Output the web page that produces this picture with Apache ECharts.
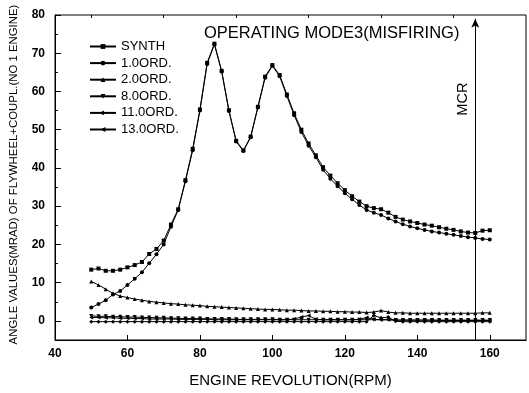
<!DOCTYPE html>
<html>
<head>
<meta charset="utf-8">
<script src="https://cdn.jsdelivr.net/npm/echarts@6/dist/echarts.min.js"></script>
<style>html,body{margin:0;padding:0;background:#fff}#c{width:529px;height:393px}</style>
</head>
<body>
<div id="c"></div>
<script>
const rpm = [50,52,54,56,58,60,62,64,66,68,70,72,74,76,78,80,82,84,86,88,90,92,94,96,98,100,102,104,106,108,110,112,114,116,118,120,122,124,126,128,130,132,134,136,138,140,142,144,146,148,150,152,154,156,158,160];
const synth = [13.4,13.7,13.1,13.1,13.4,14.0,14.6,15.4,17.5,18.8,21.0,25.2,29.2,36.8,45.0,55.3,67.5,72.5,65.4,55.1,47.1,44.6,48.2,56.0,63.9,66.9,64.3,59.2,54.3,50.0,46.4,43.3,40.2,38.0,36.0,34.2,32.6,31.2,30.0,29.5,29.2,28.3,27.2,26.5,26.0,25.6,25.2,24.9,24.5,24.1,23.8,23.4,23.1,23.0,23.6,23.7];
const ord1 = [3.5,4.4,5.4,6.9,7.8,9.4,11.0,12.7,15.1,17.4,20.0,24.6,29.0,36.5,44.6,55.0,67.2,72.3,65.2,54.9,46.9,44.4,48.0,55.8,63.6,66.7,64.0,58.8,53.8,49.4,45.8,42.8,39.5,37.2,35.2,33.4,31.8,30.3,29.0,28.3,27.7,26.8,26.0,25.3,24.7,24.2,23.8,23.4,23.1,22.8,22.5,22.2,21.9,21.7,21.4,21.3];
const ord2 = [10.3,9.4,8.3,7.2,6.5,6.1,5.7,5.4,5.1,4.9,4.7,4.5,4.4,4.2,4.1,4.0,3.8,3.7,3.6,3.5,3.4,3.3,3.2,3.1,3.0,3.0,2.9,2.8,2.8,2.7,2.6,2.6,2.5,2.5,2.4,2.4,2.3,2.3,2.2,2.3,2.7,2.3,2.1,2.1,2.0,2.0,2.0,2.0,2.0,2.0,2.0,2.0,2.0,2.0,2.1,2.1];
const ord8 = [1.3,1.2,1.2,1.1,1.1,1.0,1.0,0.9,0.9,0.8,0.8,0.7,0.7,0.6,0.6,0.6,0.5,0.5,0.5,0.5,0.4,0.4,0.4,0.4,0.4,0.4,0.3,0.3,0.3,0.3,0.3,0.3,0.3,0.3,0.3,0.3,0.3,0.3,0.3,0.3,0.3,0.3,0.2,0.2,0.2,0.2,0.2,0.2,0.2,0.2,0.2,0.2,0.2,0.2,0.2,0.2];
const ord11 = [-0.2,-0.2,-0.2,-0.2,-0.2,-0.2,-0.2,-0.2,-0.2,-0.2,-0.2,-0.2,-0.2,-0.2,-0.2,-0.2,-0.2,-0.2,-0.2,-0.2,-0.2,-0.2,-0.2,-0.2,-0.2,-0.2,-0.2,-0.2,-0.2,-0.2,-0.2,-0.2,-0.2,-0.2,-0.2,-0.2,-0.2,-0.2,-0.2,1.4,0.8,1.0,-0.1,-0.2,-0.2,-0.2,-0.2,-0.2,-0.2,-0.2,-0.2,-0.2,-0.2,-0.2,-0.2,-0.2];
const ord13 = [0.9,0.9,0.8,0.8,0.7,0.7,0.6,0.6,0.5,0.5,0.5,0.5,0.4,0.4,0.4,0.4,0.4,0.3,0.3,0.3,0.3,0.3,0.3,0.3,0.3,0.3,0.3,0.3,0.5,1.0,1.4,0.4,0.3,0.3,0.3,0.3,0.3,0.4,0.9,0.4,0.3,0.3,0.2,0.2,0.2,0.2,0.2,0.2,0.1,0.1,0.1,0.1,0.1,0.1,0.1,0.1];
const seriesNames = ['SYNTH','1.0ORD.','2.0ORD.','8.0ORD.','11.0ORD.','13.0ORD.'];
const xMajorTicks = [40,60,80,100,120,140,160];
const xMinorTicks = [50,70,90,110,130,150];
const yMajorTicks = [0,10,20,30,40,50,60,70,80];
const yMinorTicks = [5,15,25,35,45,55,65,75];
const mcrRpm = 156;
const titleText = 'OPERATING MODE3(MISFIRING)';
const xName = 'ENGINE REVOLUTION(RPM)';
const yName = 'ANGLE VALUES(MRAD) OF FLYWHEEL+COUPL.(NO 1 ENGINE)';

const FONT = '"Liberation Sans", Arial, sans-serif';
const chart = echarts.init(document.getElementById('c'), null, {renderer:'canvas'});
const symbols = [['rect',0],['circle',0],['triangle',0],['triangle',180],['diamond',0],['triangle',90]];
const datasets = [synth, ord1, ord2, ord8, ord11, ord13];
const series = datasets.map((d,i)=>({
  name: seriesNames[i], type:'line', xAxisIndex:0, yAxisIndex:0,
  data: rpm.map((x,j)=>[x,d[j]]),
  symbol: symbols[i][0], symbolRotate: symbols[i][1], symbolSize: 4,
  showAllSymbol:true,
  lineStyle:{color:'#000', width:1}, itemStyle:{color:'#000'},
  emphasis:{disabled:true}, animation:false
}));
series[0].markLine = {
  silent:true, animation:false, symbol:['none','arrow'], symbolSize:[6,9],
  lineStyle:{color:'#000', width:1, type:'solid'},
  label:{show:false},
  data:[[{coord:[mcrRpm,-5]},{coord:[mcrRpm,79]}]]
};
chart.setOption({
  animation:false,
  backgroundColor:'#fff',
  title:{text:titleText, left:199, top:20, textStyle:{fontFamily:FONT, fontSize:16.5, fontWeight:'normal', color:'#000'}},
  grid:{left:53, right:3, top:15, bottom:47, show:true, borderColor:'#000', borderWidth:1},
  legend:{orient:'vertical', left:84, top:35, itemWidth:26, itemHeight:6, itemGap:3.6,
    textStyle:{fontFamily:FONT, fontSize:13, color:'#000'}, data:seriesNames},
  xAxis:[
    {type:'value', min:40, max:170, name:xName, nameLocation:'middle', nameGap:33,
      nameTextStyle:{fontFamily:FONT, fontSize:15, color:'#000'},
      axisLine:{show:true, onZero:false, lineStyle:{color:'#000', width:1}},
      splitLine:{show:false},
      axisTick:{show:true, inside:true, length:5, customValues:xMajorTicks, lineStyle:{color:'#000'}},
      axisLabel:{customValues:xMajorTicks, fontFamily:FONT, fontSize:12, fontWeight:'bold', color:'#000', margin:8}},
    {type:'value', min:40, max:170, axisLine:{show:false, onZero:false}, splitLine:{show:false}, axisLabel:{show:false},
      axisTick:{show:true, inside:true, length:3, customValues:xMinorTicks, lineStyle:{color:'#000'}}}
  ],
  yAxis:[
    {type:'value', min:-5, max:80, name:yName, nameLocation:'middle', nameGap:36,
      nameTextStyle:{fontFamily:FONT, fontSize:11.4, color:'#000', padding:[0,0,0,6]},
      axisLine:{show:true, onZero:false, lineStyle:{color:'#000', width:1}},
      splitLine:{show:false},
      axisTick:{show:true, inside:true, length:6, customValues:yMajorTicks, lineStyle:{color:'#000'}},
      axisLabel:{customValues:yMajorTicks, fontFamily:FONT, fontSize:12, fontWeight:'bold', color:'#000', margin:10}},
    {type:'value', min:-5, max:80, position:'left', axisLine:{show:false, onZero:false}, splitLine:{show:false}, axisLabel:{show:false},
      axisTick:{show:true, inside:true, length:3, customValues:yMinorTicks, lineStyle:{color:'#000'}}}
  ],
  series: series
});
const p = chart.convertToPixel({xAxisIndex:0, yAxisIndex:0}, [mcrRpm, 58]);
chart.setOption({graphic:[{type:'text', x:p[0]-12, y:p[1], rotation:Math.PI/2,
  style:{text:'MCR', fontFamily:FONT, fontSize:14.5, fill:'#000', textAlign:'center', textVerticalAlign:'middle'}}]});
</script>
</body>
</html>
